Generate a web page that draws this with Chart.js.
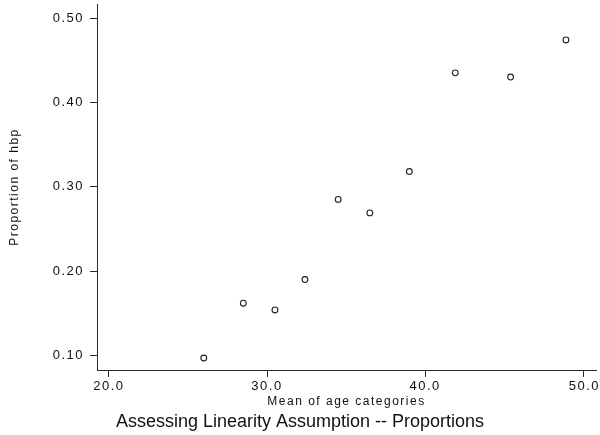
<!DOCTYPE html>
<html>
<head>
<meta charset="utf-8">
<script src="https://cdn.jsdelivr.net/npm/chart.js@4"></script>
<style>
  html, body { margin: 0; padding: 0; background: #fff; }
  #wrap { width: 600px; height: 435px; }
</style>
</head>
<body>
<div id="wrap"><canvas id="hbp-chart"></canvas></div>
<script>
// mean age per category vs proportion with high blood pressure
const ageMeans = [26.0, 28.5, 30.5, 32.4, 34.5, 36.5, 39.0, 41.9, 45.4, 48.9];
const hbpProportions = [0.097, 0.162, 0.154, 0.190, 0.285, 0.269, 0.318, 0.435, 0.430, 0.474];
const xTicks = [20, 30, 40, 50];
const yTicks = [0.10, 0.20, 0.30, 0.40, 0.50];
const chartTitle = 'Assessing Linearity Assumption -- Proportions';

const FONT = '"Liberation Sans", Arial, Helvetica, sans-serif';
const INK = '#111';
const AXIS = '#2a2a2a';

// wide letter spacing for axis text, plain title drawn underneath
const stataText = {
    id: 'stataText',
    beforeUpdate(chart) { chart.ctx.letterSpacing = '1.5px'; },
    beforeDraw(chart) {
        chart.ctx.letterSpacing = '1.5px';
        // keep the last x label inside the canvas
        const items = chart.scales.x.getLabelItems();
        const last = items[items.length - 1];
        if (last) {
            last.options.textAlign = 'right';
            last.options.translation[0] = chart.width;
        }
    },
    afterDraw(chart) {
        const ctx = chart.ctx;
        ctx.save();
        ctx.letterSpacing = '0px';
        ctx.font = `18px ${FONT}`;
        ctx.fillStyle = INK;
        ctx.textAlign = 'center';
        ctx.textBaseline = 'alphabetic';
        ctx.fillText(chartTitle, chart.width / 2, chart.height - 8);
        ctx.restore();
    }
};

const points = ageMeans.map((x, i) => ({ x, y: hbpProportions[i] }));

new Chart(document.getElementById('hbp-chart'), {
    type: 'scatter',
    data: {
        datasets: [{
            data: points,
            pointStyle: 'circle',
            pointRadius: 2.9,
            pointHoverRadius: 2.9,
            pointBorderWidth: 1.1,
            pointBorderColor: '#222',
            pointBackgroundColor: 'rgba(255,255,255,0)'
        }]
    },
    options: {
        responsive: true,
        maintainAspectRatio: false,
        animation: false,
        layout: {
            padding: { top: 4, right: 0, bottom: 26.5, left: 0 }
        },
        plugins: {
            legend: { display: false },
            tooltip: { enabled: false }
        },
        scales: {
            x: {
                type: 'linear',
                min: 19.25,
                max: 50.8,
                afterBuildTicks: scale => {
                    scale.ticks = xTicks.map(v => ({ value: v }));
                },
                afterFit: scale => {
                    scale.height = 38.5;
                    scale.paddingLeft = 0;
                    scale.paddingRight = 0;
                },
                grid: {
                    drawOnChartArea: false,
                    drawTicks: true,
                    tickLength: 7,
                    tickColor: AXIS,
                    lineWidth: 1
                },
                border: { display: true, color: AXIS, width: 1 },
                ticks: {
                    autoSkip: false,
                    maxRotation: 0,
                    padding: 2,
                    color: INK,
                    font: { size: 13, family: FONT },
                    callback: v => v.toFixed(1)
                },
                title: {
                    display: true,
                    text: 'Mean of age categories',
                    color: INK,
                    font: { size: 12, family: FONT },
                    padding: { top: 0, bottom: 0 }
                }
            },
            y: {
                type: 'linear',
                min: 0.0828,
                max: 0.5166,
                afterBuildTicks: scale => {
                    scale.ticks = yTicks.map(v => ({ value: v }));
                },
                afterFit: scale => {
                    scale.width = 97;
                    scale.paddingTop = 0;
                    scale.paddingBottom = 0;
                },
                grid: {
                    drawOnChartArea: false,
                    drawTicks: true,
                    tickLength: 7,
                    tickColor: AXIS,
                    lineWidth: 1
                },
                border: { display: true, color: AXIS, width: 1 },
                ticks: {
                    autoSkip: false,
                    padding: 6,
                    color: INK,
                    font: { size: 13, family: FONT },
                    callback: v => v.toFixed(2)
                },
                title: {
                    display: true,
                    text: 'Proportion of hbp',
                    color: INK,
                    font: { size: 12, family: FONT },
                    padding: { top: 7.4, bottom: 0 }
                }
            }
        }
    },
    plugins: [stataText]
});
</script>
</body>
</html>
